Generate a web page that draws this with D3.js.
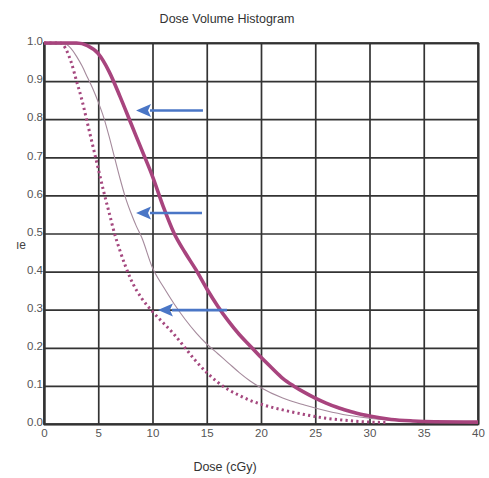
<!DOCTYPE html>
<html>
<head>
<meta charset="utf-8">
<script src="https://cdn.jsdelivr.net/npm/d3@7/dist/d3.min.js"></script>
<style>
  html, body { margin: 0; padding: 0; background: #fff; }
  svg { display: block; }
</style>
</head>
<body>
<svg id="chart" width="489" height="478"></svg>
<script>
// ---- Data ----
const xTicks = [0, 5, 10, 15, 20, 25, 30, 35, 40];
const yTicks = [0.0, 0.1, 0.2, 0.3, 0.4, 0.5, 0.6, 0.7, 0.8, 0.9, 1.0];

// Thick solid curve
const thickDose  = [0, 3, 4, 5, 6, 7, 8, 9, 10, 11, 12, 13, 14, 15, 16, 17, 18, 19, 20, 21, 22, 23, 24, 25, 26, 27, 28, 29, 30, 32, 34, 36, 40];
const thickValue = [1.0, 1.0, 0.993, 0.972, 0.925, 0.86, 0.79, 0.72, 0.65, 0.57, 0.5, 0.45, 0.405, 0.355, 0.31, 0.27, 0.235, 0.205, 0.175, 0.147, 0.12, 0.1, 0.083, 0.068, 0.055, 0.044, 0.035, 0.027, 0.021, 0.012, 0.008, 0.006, 0.005];

// Thin solid curve
const thinDose  = [0, 1.8, 2.5, 3, 3.5, 4, 4.5, 5, 5.5, 6, 6.5, 7, 7.5, 8, 8.5, 9, 10, 11, 12, 13, 14, 15, 16, 17, 18, 19, 20, 22, 24, 26, 28, 30, 32];
const thinValue = [1.0, 1.0, 0.985, 0.965, 0.94, 0.91, 0.88, 0.845, 0.805, 0.755, 0.7, 0.645, 0.595, 0.555, 0.52, 0.49, 0.41, 0.36, 0.315, 0.275, 0.24, 0.21, 0.185, 0.16, 0.135, 0.113, 0.095, 0.068, 0.05, 0.035, 0.023, 0.015, 0.01];

// Dotted curve
const dotDose  = [0, 1.5, 2, 2.5, 3, 3.5, 4, 4.5, 5, 5.5, 6, 6.5, 7, 7.5, 8, 9, 10, 11, 12, 13, 14, 15, 16, 17, 18, 19, 20, 22, 24, 26, 28, 30, 31.5];
const dotValue = [1.0, 1.0, 0.985, 0.95, 0.9, 0.85, 0.79, 0.73, 0.67, 0.61, 0.555, 0.5, 0.455, 0.415, 0.38, 0.33, 0.295, 0.265, 0.235, 0.2, 0.165, 0.135, 0.11, 0.09, 0.075, 0.062, 0.052, 0.037, 0.025, 0.015, 0.009, 0.005, 0.004];

// Annotation arrows (tail -> tip), in data units
const arrowTailDose  = [14.65, 14.56, 16.87];
const arrowTipDose   = [8.48, 8.48, 10.5];
const arrowValue     = [0.823, 0.554, 0.299];

const titleText = "Dose Volume Histogram";
const xLabelText = "Dose (cGy)";
const yLabelText = "ıe";

// ---- Layout ----
const svg = d3.select("#chart");
const mLeft = 44, mRight = 478, mTop = 43, mBottom = 424;

const x = d3.scaleLinear().domain([0, 40]).range([mLeft, mRight]);
const y = d3.scaleLinear().domain([0, 1]).range([mBottom, mTop]);

svg.append("rect").attr("width", 489).attr("height", 478).attr("fill", "#fff");

// Grid via axes
const gridColor = "#333";
const xAxis = d3.axisBottom(x).tickValues(xTicks).tickSize(-(mBottom - mTop)).tickPadding(5)
  .tickFormat(d3.format("d"));
const gx = svg.append("g").attr("transform", `translate(0,${mBottom})`).call(xAxis);
gx.select(".domain").attr("stroke", gridColor).attr("stroke-width", 1.7);
gx.selectAll(".tick line").attr("stroke", gridColor).attr("stroke-width", 1.7);
gx.selectAll(".tick text").attr("fill", "#555").attr("font-size", 11.5)
  .attr("font-family", "'Liberation Sans', Arial, sans-serif");

const yAxis = d3.axisLeft(y).tickValues(yTicks).tickSize(-(mRight - mLeft)).tickPadding(1)
  .tickFormat(d3.format(".1f"));
const gy = svg.append("g").attr("transform", `translate(${mLeft},0)`).call(yAxis);
gy.select(".domain").attr("stroke", gridColor).attr("stroke-width", 1.7);
gy.selectAll(".tick line").attr("stroke", gridColor).attr("stroke-width", 1.7);
gy.selectAll(".tick text").attr("fill", "#555").attr("font-size", 11.5).attr("dy", "0.15em")
  .attr("font-family", "'Liberation Sans', Arial, sans-serif");

// Top & right border
svg.append("rect").attr("x", mLeft).attr("y", mTop).attr("width", mRight - mLeft).attr("height", mBottom - mTop)
  .attr("fill", "none").attr("stroke", gridColor).attr("stroke-width", 1.7);

// Curves
const line = d3.line().x(d => x(d[0])).y(d => y(d[1])).curve(d3.curveMonotoneX);
const zipped = (a, b) => a.map((v, i) => [v, b[i]]);

svg.append("path").datum(zipped(thinDose, thinValue)).attr("d", line)
  .attr("fill", "none").attr("stroke", "#a58a9c").attr("stroke-width", 1.1);

svg.append("path").datum(zipped(dotDose, dotValue)).attr("d", line)
  .attr("fill", "none").attr("stroke", "#a5487f").attr("stroke-width", 3)
  .attr("stroke-dasharray", "2.2 3.2");

svg.append("path").datum(zipped(thickDose, thickValue)).attr("d", line)
  .attr("fill", "none").attr("stroke", "#a8447e").attr("stroke-width", 3.6)
  .attr("stroke-linejoin", "round");

// Arrows
const arrowColor = "#4a76c6";
arrowValue.forEach((v, i) => {
  const x1 = x(arrowTailDose[i]), x2 = x(arrowTipDose[i]), yy = y(v);
  const headLen = 15, headHalf = 6.5;
  svg.append("line").attr("x1", x1).attr("y1", yy).attr("x2", x2 + headLen - 1).attr("y2", yy)
    .attr("stroke", arrowColor).attr("stroke-width", 2.6);
  svg.append("path")
    .attr("d", `M${x2},${yy} L${x2 + headLen},${yy - headHalf} L${x2 + headLen - 3},${yy} L${x2 + headLen},${yy + headHalf} Z`)
    .attr("fill", arrowColor);
});

// Texts
svg.append("text").attr("x", 227).attr("y", 23).attr("text-anchor", "middle")
  .attr("font-family", "'Liberation Sans', Arial, sans-serif").attr("font-size", 12.5)
  .attr("fill", "#333").text(titleText);

svg.append("text").attr("x", 225).attr("y", 471).attr("text-anchor", "middle")
  .attr("font-family", "'Liberation Sans', Arial, sans-serif").attr("font-size", 12.5)
  .attr("fill", "#333").text(xLabelText);

svg.append("text").attr("x", 16).attr("y", 249)
  .attr("font-family", "'Liberation Sans', Arial, sans-serif").attr("font-size", 12)
  .attr("fill", "#444").text(yLabelText);
</script>
</body>
</html>
